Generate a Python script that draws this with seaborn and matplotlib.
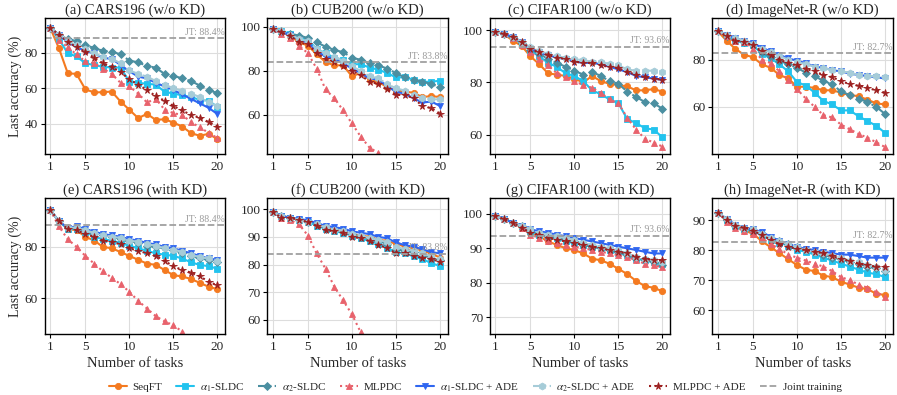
import numpy as np
import pandas as pd
import matplotlib
matplotlib.use("Agg")
import matplotlib.pyplot as plt
import seaborn as sns

# tasks on the x axis
tasks = list(range(1, 21))

methods = ["SeqFT", r"$\alpha_1$-SLDC", r"$\alpha_2$-SLDC", "MLPDC",
           r"$\alpha_1$-SLDC + ADE", r"$\alpha_2$-SLDC + ADE", "MLPDC + ADE"]

titles = ["(a) CARS196 (w/o KD)", "(b) CUB200 (w/o KD)", "(c) CIFAR100 (w/o KD)", "(d) ImageNet-R (w/o KD)",
          "(e) CARS196 (with KD)", "(f) CUB200 (with KD)", "(g) CIFAR100 (with KD)", "(h) ImageNet-R (with KD)"]

jt_values = [88.4, 83.8, 93.6, 82.7, 88.4, 83.8, 93.6, 82.7]

# (a) CARS196 w/o KD
cars_wo = [
    [94, 82.4, 68.4, 68, 59.4, 57.6, 57.8, 58.1, 52.5, 47.9, 43.2, 45.6, 42.2, 42.6, 40.7, 38.5, 34.8, 33.3, 34.4, 31.4],
    [94, 87.5, 79.6, 77.8, 74, 73, 72, 71.6, 71.6, 63.7, 63, 62.5, 62, 58, 57, 56, 55, 53.5, 53, 49.5],
    [94, 90, 87.5, 86.5, 84.3, 82.5, 81, 80.5, 79, 75.5, 74.5, 72.5, 71.5, 68, 67, 65.5, 64, 61.5, 59, 57.2],
    [94, 87, 83, 79, 75, 74, 71, 68, 63, 61, 57, 52, 54, 48, 46, 45, 41, 38, 35, 32],
    [94, 90, 86, 83, 81, 79.5, 77, 76.5, 73, 69.5, 66.5, 65.5, 63, 61, 59, 56.5, 54, 51.5, 49, 45.5],
    [94, 90, 86.5, 84, 82, 79.5, 77.5, 76.5, 74, 70, 68, 66.5, 64, 62, 60, 58.5, 57, 55, 52, 50],
    [94, 90, 86, 83, 80.5, 77, 74, 72, 69, 65, 62, 59, 55.5, 53, 50, 47.5, 45, 43.5, 41, 38.5],
]
# (b) CUB200 w/o KD
cub_wo = [
    [99, 97.5, 96, 93, 91.5, 87.5, 84, 82.5, 82.5, 77.5, 79, 76, 75, 72.5, 71, 70.5, 70, 68, 68.5, 68],
    [99, 98, 97, 95, 94, 90, 88, 86, 85, 83, 83, 81.5, 80.5, 79, 77, 77, 76, 75, 75, 75.5],
    [99, 98, 97, 96, 95, 93, 91, 89.5, 88.5, 86, 85, 83.5, 82.5, 81, 79, 77, 76, 75, 74, 72.5],
    [99, 97, 95, 91.5, 88, 81, 71.5, 67.5, 62, 56, 50, 45, 42.5, 38, 34, 31, 28, 25, 22, 20],
    [99, 97.5, 96.5, 94, 93, 89, 86.5, 85.5, 83.5, 81, 79, 76.5, 76, 73, 70.5, 69.5, 67.5, 65.5, 66, 64],
    [99, 98, 96.5, 94.5, 93.5, 90, 88, 86.5, 84.5, 82, 80, 77.5, 76.5, 74, 72, 71, 69, 67.5, 67, 67],
    [99, 97.5, 96, 93, 92, 88, 85.5, 84, 82, 80, 78, 75, 74, 71.5, 69, 69, 67.5, 64, 63, 60.5],
]
# (c) CIFAR100 w/o KD
cifar_wo = [
    [99.5, 98.5, 96, 94, 90, 87, 83.5, 83, 82.5, 81.5, 80, 82.5, 80.5, 79.5, 79, 78.5, 77, 77, 77.5, 76.5],
    [99.5, 98.5, 97, 95, 92.5, 90, 87.5, 86, 83.5, 82.5, 80.5, 77, 75.5, 73.5, 72, 66, 64.5, 62.5, 62, 59],
    [99.5, 98.5, 97.5, 95, 92.5, 91, 89, 87.5, 86, 84.5, 83, 84, 82.5, 80.5, 79.5, 76.5, 74.5, 72.5, 72, 70],
    [99.5, 98.5, 97, 94.5, 91.5, 89, 86.5, 83.5, 82, 80.5, 79, 78, 76, 73.5, 72, 66.5, 62, 58.5, 57, 55.5],
    [99.5, 98.5, 97.5, 95.5, 93, 91.5, 90.5, 89.5, 89, 88, 87.5, 87.5, 87, 86, 85, 84, 82.5, 82, 81.5, 81],
    [99.5, 98.5, 97.5, 95.5, 93.5, 92, 91, 90, 89.5, 89, 88.5, 88, 88, 87, 86.5, 85, 84.5, 84.5, 84.5, 84],
    [99.5, 98.5, 97.5, 95.5, 93, 91.5, 90.5, 89.5, 89, 88, 87.5, 87.5, 86.5, 86, 85.5, 84, 83, 82, 81.5, 81],
]
# (d) ImageNet-R w/o KD
inr_wo = [
    [92, 88, 84.5, 82, 81, 78, 76.5, 73.5, 72, 68.5, 68.5, 68, 67, 67, 66, 65, 64.5, 63, 61.5, 61],
    [92, 90, 88, 87, 86, 82.5, 80.5, 78, 75, 70.5, 69, 66, 62.5, 61, 58.5, 58.5, 56, 54, 52, 49],
    [92, 90, 88.5, 87.5, 86, 83, 81, 79.5, 78, 76.5, 74.5, 73, 71, 69.5, 66.5, 65, 63.5, 62, 60, 57],
    [92, 90, 88, 87.5, 84.5, 80, 78.5, 75, 71.5, 67.5, 63.5, 60, 56.5, 55.5, 52.5, 50.5, 48.5, 47, 45, 43],
    [92, 90.5, 89, 88, 87, 85, 83.5, 82, 80.5, 79.5, 78.5, 77, 76.5, 75.5, 75, 74, 73.5, 73, 72.5, 72],
    [92, 90.5, 89, 88, 86.5, 84.5, 83, 81.5, 80, 79, 78, 77, 76.5, 75.5, 75, 74.5, 73.5, 73, 73, 72.5],
    [92, 90, 88, 87.5, 86, 83.5, 82, 80, 78.5, 77.5, 76, 75, 73.5, 72.5, 71, 69.5, 69, 68, 67, 66],
]
# (e) CARS196 with KD
cars_kd = [
    [94.5, 90, 87, 86.5, 84, 82.5, 80, 79.5, 78, 76.5, 75, 73.5, 73, 71, 69, 68.5, 67.5, 66, 64.5, 63.5],
    [94.5, 90, 87, 87, 86, 84, 83, 82.5, 81.5, 80.5, 79.5, 78.5, 77.5, 77, 76.5, 75.5, 74, 73, 72.5, 71.5],
    [94.5, 90, 87.5, 87.5, 86.5, 85.5, 84.5, 84, 83, 82.5, 81.5, 80.5, 80, 79.5, 79, 77.5, 76.5, 75.5, 75, 74],
    [94.5, 88, 83, 80, 76.5, 73.5, 70.5, 68, 65.5, 62.5, 59, 56, 53, 51, 49.5, 47, 44.5, 42, 39.5, 37],
    [94.5, 90, 87.5, 88, 87, 86, 85, 84.5, 84, 83, 82.5, 81.5, 81, 80, 79.5, 78.5, 77.5, 76.5, 75.5, 75],
    [94.5, 90, 87.5, 87.5, 86.5, 85.5, 84.5, 84, 83.5, 82.5, 82, 81, 80.5, 79.5, 79, 78, 77, 76, 75.5, 74.5],
    [94.5, 90, 87, 86.5, 85, 84, 82.5, 82, 81, 79.5, 78.5, 77.5, 76.5, 74.5, 72.5, 71, 70, 68.5, 66.5, 65],
]
# (f) CUB200 with KD
cub_kd = [
    [99, 97.5, 97, 96, 95.5, 94.5, 93.5, 92.5, 92, 91, 90.5, 90, 89, 88.5, 87.5, 86.5, 86, 85, 84, 82.5],
    [99, 97.5, 97, 96, 95.5, 94, 93, 92, 91.5, 90.5, 89.5, 88.5, 87.5, 86, 84.5, 84, 83, 82, 80.5, 79.5],
    [99, 97.5, 97, 96, 95.5, 94.5, 93, 92.5, 92, 91, 90, 89.5, 88.5, 87.5, 85.5, 85, 84.5, 83.5, 82.5, 81.5],
    [99, 97, 96, 94.5, 90.5, 84, 78.5, 72, 67, 62, 55.5, 50, 45, 40, 36, 32, 29, 26, 23, 21],
    [99, 97.5, 97, 96.5, 96, 95, 94, 93.5, 93, 92, 91.5, 91, 90, 89.5, 88, 87, 86.5, 85.5, 84.5, 84],
    [99, 97.5, 97, 96, 95.5, 94.5, 93.5, 92.5, 92, 91, 90.5, 89.5, 89, 88, 86.5, 85.5, 85, 84, 83, 82],
    [99, 97, 97, 96, 95.5, 94, 92.5, 92, 91.5, 90, 89.5, 88.5, 87, 86, 84, 84, 83, 82.5, 82, 81],
]
# (g) CIFAR100 with KD
cifar_kd = [
    [99.5, 98.5, 97.5, 96, 94.5, 93.5, 92, 91, 90, 89.5, 88.5, 87, 86.5, 85.5, 84, 82.5, 80.5, 79, 78.5, 77.5],
    [99.5, 98.5, 97.5, 96.5, 95, 94, 93.5, 93, 92, 91.5, 91, 90.5, 90, 89.5, 88.5, 88, 87, 86.5, 86, 85.5],
    [99.5, 98.5, 97.5, 96.5, 95, 94, 93.5, 93, 92.5, 92, 91, 90.5, 90, 89.5, 89, 88, 87, 86.5, 86, 85],
    [99.5, 98.5, 97.5, 96, 94, 93, 92, 91.5, 91, 90.5, 90, 89.5, 89, 88.5, 88, 87.5, 86.5, 85.5, 85, 84.5],
    [99.5, 98.5, 97.5, 96.5, 95.5, 95, 94.5, 94, 93.5, 93, 92.5, 92, 91.5, 91, 90.5, 90, 89.5, 89, 88.5, 88.5],
    [99.5, 98.5, 97.5, 96.5, 95.5, 94.5, 94, 93.5, 93, 92.5, 91.5, 91, 90.5, 90, 89.5, 88.5, 87.5, 87, 86.5, 86],
    [99.5, 98.5, 97.5, 96, 94.5, 94, 93, 92.5, 92, 91.5, 91, 90.5, 90, 89.5, 89, 88.5, 87.5, 87, 86.5, 86.5],
]
# (h) ImageNet-R with KD
inr_kd = [
    [92.5, 90, 88, 86.5, 85.5, 83, 81, 79, 77, 75, 73.5, 73, 71.5, 71, 69.5, 68.5, 67.5, 67, 65.5, 65],
    [92.5, 90, 88, 87, 86.5, 85, 83.5, 82.5, 81.5, 80, 79.5, 78.5, 77.5, 76.5, 75.5, 74.5, 73.5, 72.5, 72, 71],
    [92.5, 90, 88, 87, 86.5, 85.5, 84, 83, 82, 81, 80, 79.5, 78.5, 77.5, 77, 76, 75.5, 74.5, 74, 73],
    [92.5, 89.5, 87.5, 86.5, 85.5, 84, 82, 80.5, 78.5, 77.5, 76.5, 75.5, 74.5, 73, 71, 70, 68.5, 67.5, 66, 64.5],
    [92.5, 90.5, 88.5, 87.5, 87, 86, 84.5, 83, 82, 81, 80.5, 80, 79.5, 79, 78.5, 78.5, 78, 77.5, 77.5, 77.5],
    [92.5, 90.5, 88.5, 87.5, 87, 85.5, 84, 83, 82, 81, 80, 79.5, 79, 78, 77.5, 76.5, 76, 75, 74.5, 73.5],
    [92.5, 90, 88, 87.5, 86.5, 85, 83.5, 82, 81, 80.5, 80, 79.5, 79, 78, 77, 76.5, 75.5, 75, 74.5, 74.5],
]

panels = [cars_wo, cub_wo, cifar_wo, inr_wo, cars_kd, cub_kd, cifar_kd, inr_kd]

ylims = [(23, 99.3), (42, 104), (52.6, 104.6), (40, 97.5),
         (46, 99), (54.8, 104), (65, 104.6), (52, 97.3)]
yticks = [[40, 60, 80], [60, 80, 100], [60, 80, 100], [60, 80],
          [60, 80], [60, 70, 80, 90, 100], [70, 80, 90, 100], [60, 70, 80, 90]]

# style of each method
colors = ["#f47a20", "#22c3ee", "#4b8fa1", "#e8626c", "#2f66f0", "#a6ccd8", "#9c1f1f"]
markers = ["o", "s", "D", "^", "v", "h", "*"]
linestyles = ["-", "-", "-.", ":", "-", "-.", ":"]
msizes = [4.5, 4.5, 4.5, 4.5, 5, 5, 5.5]

sns.set_theme(style="ticks")
plt.rcParams['font.family'] = ['Liberation Serif', 'DejaVu Serif']
plt.rcParams['mathtext.fontset'] = 'stix'

fig, axes = plt.subplots(2, 4, figsize=(8.97, 3.95), dpi=100)
fig.subplots_adjust(left=0.05, right=0.9955, top=0.954, bottom=0.154, wspace=0.233, hspace=0.324)

for i, ax in enumerate(axes.flat):
    data = panels[i]
    for j, name in enumerate(methods):
        df = pd.DataFrame({"task": tasks, "acc": data[j]})
        sns.lineplot(data=df, x="task", y="acc", ax=ax, color=colors[j], marker=markers[j],
                     linestyle=linestyles[j], linewidth=1.5, markersize=msizes[j],
                     markeredgecolor=colors[j], markeredgewidth=0.6, label=name, legend=False)
    ax.axhline(jt_values[i], color="#a0a0a0", linestyle="--", linewidth=1.3, label="Joint training")
    ax.text(20.85, jt_values[i] + 0.6, f"JT: {jt_values[i]}%", ha="right", va="bottom",
            fontsize=7, color="#999999")
    ax.set_xlim(0.4, 20.9)
    ax.set_ylim(*ylims[i])
    ax.set_xticks([1, 5, 10, 15, 20])
    ax.set_yticks(yticks[i])
    ax.grid(True, color="#dddddd", linewidth=0.8)
    ax.set_axisbelow(True)
    for s in ax.spines.values():
        s.set_color("black")
        s.set_linewidth(1.0)
    ax.tick_params(labelsize=9.5, length=3, width=0.8, pad=2, color="black")
    ax.set_title(titles[i], fontsize=10.5, pad=3)
    ax.set_xlabel("Number of tasks" if i >= 4 else "", fontsize=10.5, labelpad=3)
    ax.set_ylabel("Last accuracy (%)" if i % 4 == 0 else "", fontsize=10, labelpad=2)

handles, labels = axes[0, 0].get_legend_handles_labels()
fig.legend(handles, labels, loc="lower center", bbox_to_anchor=(0.53, -0.022), ncol=8,
           frameon=False, fontsize=8, handlelength=1.6, columnspacing=1.3, handletextpad=0.5)

plt.savefig("out.png", dpi=100)
